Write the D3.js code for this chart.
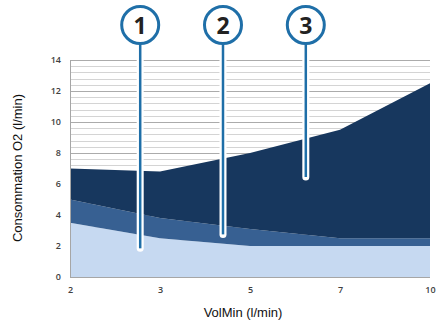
<!DOCTYPE html>
<html>
<head>
<meta charset="utf-8">
<script src="https://cdn.jsdelivr.net/npm/d3@7"></script>
<style>
  html, body { margin: 0; padding: 0; background: #ffffff; }
  svg { display: block; }
</style>
</head>
<body>
<svg id="chart" width="442" height="324"></svg>
<script>
// ---- data ----
const categories = ["2", "3", "5", "7", "10"];
const series1 = [3.5, 2.5, 2.0, 2.0, 2.0];   // bottom (light)
const series2 = [1.5, 1.3, 1.1, 0.5, 0.5];   // middle increment
const series3 = [2.0, 3.0, 4.9, 7.0, 10.0];  // top increment
const yTicks = [0, 2, 4, 6, 8, 10, 12, 14];
const callouts = [
  { label: "1", pos: 0.78, end: 1.85 },
  { label: "2", pos: 1.70, end: 2.75 },
  { label: "3", pos: 2.62, end: 6.45 }
];
const xTitle = "VolMin (l/min)";
const yTitle = "Consommation O2 (l/min)";

(function () {
// ---- layout ----
const svg = d3.select("#chart");
const pL = 70, pR = 430, pT = 60, pB = 277;
const colors = ["#c6d9f1", "#376092", "#17375e"];

const x = d3.scalePoint().domain(categories).range([pL, pR]);
const xi = d3.scaleLinear().domain([0, categories.length - 1]).range([pL, pR]);
const y = d3.scaleLinear().domain([0, 14]).range([pB, pT]);

// grid lines
const minor = d3.range(0, 14.0001, 0.4);
svg.append("g").selectAll("line").data(minor).join("line")
  .attr("x1", pL).attr("x2", pR)
  .attr("y1", d => Math.round(y(d)) + 0.5).attr("y2", d => Math.round(y(d)) + 0.5)
  .attr("stroke", d => (Math.abs(d / 2 - Math.round(d / 2)) < 1e-6) ? "#ababab" : "#d4d4d4")
  .attr("stroke-width", 1);

// stacked areas
const table = categories.map((c, i) => ({ cat: c, s1: series1[i], s2: series2[i], s3: series3[i] }));
const stack = d3.stack().keys(["s1", "s2", "s3"]);
const layers = stack(table);
const area = d3.area()
  .x(d => x(d.data.cat))
  .y0(d => y(d[0]))
  .y1(d => y(d[1]));
svg.append("g").selectAll("path").data(layers).join("path")
  .attr("d", area)
  .attr("fill", (d, i) => colors[i]);

// axes lines
svg.append("line").attr("x1", pL + 0.5).attr("x2", pL + 0.5).attr("y1", pT).attr("y2", pB)
  .attr("stroke", "#a6a6a6");
svg.append("line").attr("x1", pL).attr("x2", pR).attr("y1", pB + 0.5).attr("y2", pB + 0.5)
  .attr("stroke", "#a6a6a6");

// y tick labels
const yAxis = svg.append("g").attr("transform", `translate(${pL},0)`)
  .call(d3.axisLeft(y).tickValues(yTicks).tickSize(0).tickPadding(9));
yAxis.select(".domain").remove();
yAxis.selectAll("text")
  .attr("font-family", "'Open Sans', sans-serif").attr("font-size", 9).attr("font-weight", 600)
  .attr("fill", "#404040");

// x tick labels
const xAxis = svg.append("g").attr("transform", `translate(0,${pB})`)
  .call(d3.axisBottom(x).tickSize(0).tickPadding(10));
xAxis.select(".domain").remove();
xAxis.selectAll("text")
  .attr("font-family", "'Open Sans', sans-serif").attr("font-size", 9).attr("font-weight", 600)
  .attr("fill", "#404040");

// titles
svg.append("text").attr("x", 243).attr("y", 317)
  .attr("text-anchor", "middle")
  .attr("font-family", "'Liberation Sans', Arial, sans-serif").attr("font-size", 13)
  .attr("fill", "#111").text(xTitle);
svg.append("text")
  .attr("transform", `translate(22,168) rotate(-90)`)
  .attr("text-anchor", "middle")
  .attr("font-family", "'Liberation Sans', Arial, sans-serif").attr("font-size", 13)
  .attr("fill", "#111").text(yTitle);

// callouts
const cy = 25, r = 18.5;
const blue = "#1f6fa8";
const cg = svg.append("g").selectAll("g").data(callouts).join("g");
cg.append("line")
  .attr("x1", d => xi(d.pos)).attr("x2", d => xi(d.pos))
  .attr("y1", cy + r).attr("y2", d => y(d.end))
  .attr("stroke", "#ffffff").attr("stroke-width", 7).attr("stroke-linecap", "round");
cg.append("line")
  .attr("x1", d => xi(d.pos)).attr("x2", d => xi(d.pos))
  .attr("y1", cy + r).attr("y2", d => y(d.end))
  .attr("stroke", blue).attr("stroke-width", 2.5);
cg.append("circle")
  .attr("cx", d => xi(d.pos)).attr("cy", cy).attr("r", r)
  .attr("fill", "#ffffff").attr("stroke", blue).attr("stroke-width", 3);
cg.append("text")
  .attr("x", d => xi(d.pos)).attr("y", cy + 8.5)
  .attr("text-anchor", "middle")
  .attr("font-family", "'Open Sans', sans-serif").attr("font-size", 23).attr("font-weight", 700)
  .attr("fill", "#222").text(d => d.label);
})();
</script>
</body>
</html>
